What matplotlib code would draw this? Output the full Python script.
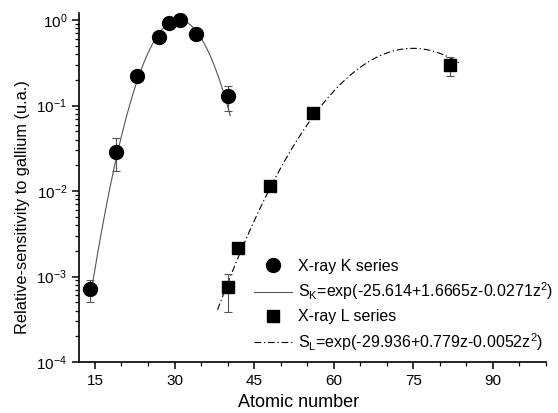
import numpy as np
import matplotlib
matplotlib.use("Agg")
import matplotlib.pyplot as plt
from matplotlib.ticker import FixedLocator, LogLocator, NullFormatter

plt.rcParams['font.family'] = ['Liberation Sans', 'DejaVu Sans']
plt.rcParams['mathtext.default'] = 'regular'

# X-ray K series
k_z = [14, 19, 23, 27, 29, 31, 34, 40]
k_s = [7.1e-4, 0.0286, 0.224, 0.63, 0.93, 1.0, 0.69, 0.131]
k_lo = [5.0e-4, 0.017, None, None, None, None, None, 0.087]
k_hi = [9.1e-4, 0.042, None, None, None, None, None, 0.171]

# X-ray L series
l_z = [40, 42, 48, 56, 82]
l_s = [7.5e-4, 2.15e-3, 1.14e-2, 0.082, 0.297]
l_lo = [3.8e-4, None, None, 0.076, 0.22]
l_hi = [1.07e-3, None, None, 0.089, 0.37]

# fit coefficients (from legend)
k_coef = [-25.614, 1.6665, -0.0271]
l_coef = [-29.936, 0.779, -0.0052]
k_range = [14.6, 40.5]
l_range = [38.1, 84.0]

x_ticks = [15, 30, 45, 60, 75, 90]


def errs(vals, lo, hi):
    low = [v - l if l is not None else 0 for v, l in zip(vals, lo)]
    up = [h - v if h is not None else 0 for v, h in zip(vals, hi)]
    return [low, up]


fig = plt.figure(figsize=(5.58, 4.13), dpi=100)
ax = fig.add_axes([79/558, 1-362/413, (546-79)/558, (362-13)/413])

ax.errorbar(k_z, k_s, yerr=errs(k_s, k_lo, k_hi), fmt='none', ecolor='#555555',
            elinewidth=0.8, capsize=3, capthick=0.8, zorder=2)
ax.errorbar(l_z, l_s, yerr=errs(l_s, l_lo, l_hi), fmt='none', ecolor='#555555',
            elinewidth=0.8, capsize=3, capthick=0.8, zorder=2)

zk = np.linspace(k_range[0], k_range[1], 300)
zl = np.linspace(l_range[0], l_range[1], 300)
sk = np.exp(k_coef[0] + k_coef[1]*zk + k_coef[2]*zk**2)
sl = np.exp(l_coef[0] + l_coef[1]*zl + l_coef[2]*zl**2)

h1, = ax.plot(k_z, k_s, 'o', color='black', markersize=10, linestyle='none', zorder=3)
h2, = ax.plot(zk, sk, '-', color='#555555', lw=0.8, zorder=1)
h3, = ax.plot(l_z, l_s, 's', color='black', markersize=8, linestyle='none', zorder=3)
h4, = ax.plot(zl, sl, color='black', lw=0.8, linestyle=(0, (6, 2.5, 1.2, 2.5)), zorder=1)

ax.set_yscale('log')
ax.set_xlim(12, 100)
ax.set_ylim(1e-4, 1.21)
ax.xaxis.set_major_locator(FixedLocator(x_ticks))
ax.xaxis.set_minor_locator(FixedLocator(np.arange(20, 101, 5)))
ax.yaxis.set_major_locator(LogLocator(base=10, numticks=10))
ax.yaxis.set_minor_locator(LogLocator(base=10, subs=np.arange(2, 10), numticks=20))
ax.yaxis.set_minor_formatter(NullFormatter())

for s in ['top', 'right']:
    ax.spines[s].set_visible(False)
for s in ['left', 'bottom']:
    ax.spines[s].set_linewidth(1.2)

ax.tick_params(axis='both', which='major', direction='out', length=5, width=1.1, labelsize=11)
ax.tick_params(axis='both', which='minor', direction='out', length=3, width=0.9)

ax.set_xlabel('Atomic number', fontsize=13)
ax.set_ylabel('Relative-sensitivity to gallium (u.a.)', fontsize=11.8)
ax.xaxis.set_label_coords(0.471, -0.093)
ax.yaxis.set_label_coords(-0.105, 0.444)

labels = ['X-ray K series',
          'S$_K$=exp(-25.614+1.6665z-0.0271z$^2$)',
          'X-ray L series',
          'S$_L$=exp(-29.936+0.779z-0.0052z$^2$)']
leg = ax.legend([h1, h2, h3, h4], labels, loc='upper left',
                bbox_to_anchor=(254/558, 1-259/413), bbox_transform=fig.transFigure,
                frameon=False, fontsize=11.5, handlelength=2.4, handletextpad=0.35,
                labelspacing=0.42, borderpad=0, borderaxespad=0)

fig.savefig('out.png', dpi=100)
